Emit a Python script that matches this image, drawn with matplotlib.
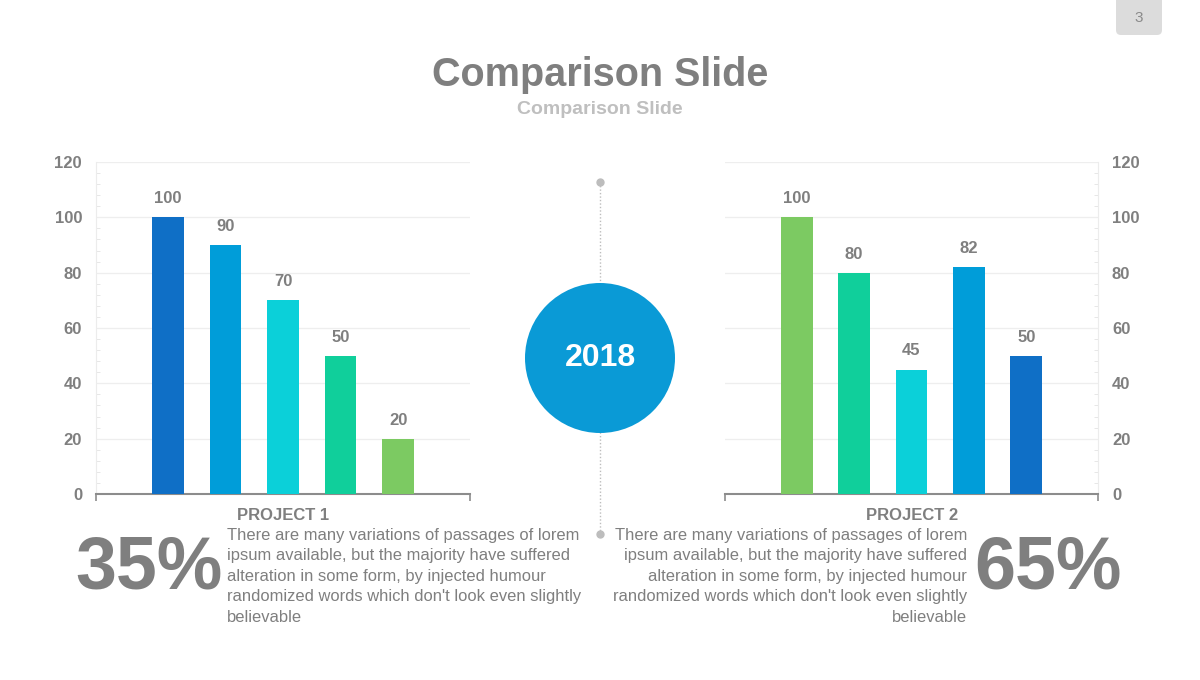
import matplotlib
matplotlib.use('Agg')
import matplotlib.pyplot as plt
from matplotlib.patches import Circle, FancyBboxPatch
from matplotlib.ticker import MultipleLocator

## Data ##
categories = ['A', 'B', 'C', 'D', 'E']
project1_values = [100, 90, 70, 50, 20]
project2_values = [100, 80, 45, 82, 50]
project1_colors = ['#0f6fc6', '#009dd9', '#0bd0d9', '#10cf9b', '#7cca62']
project2_colors = ['#7cca62', '#10cf9b', '#0bd0d9', '#009dd9', '#0f6fc6']
y_ticks = [0, 20, 40, 60, 80, 100, 120]
project_labels = ['PROJECT 1', 'PROJECT 2']
percent_labels = ['35%', '65%']
year_label = '2018'
title = 'Comparison Slide'
subtitle = 'Comparison Slide'
page_number = '3'
body = ("There are many variations of passages of lorem\n"
        "ipsum available, but the majority have suffered\n"
        "alteration in some form, by injected humour\n"
        "randomized words which don't look even slightly\n"
        "believable")

GRAY = '#7f7f7f'
LIGHT = '#bdbdbd'
CIRCLE = '#0a9ad6'

plt.rcParams['font.family'] = ['Liberation Sans', 'DejaVu Sans']

fig = plt.figure(figsize=(12, 6.8), dpi=100)
fig.patch.set_facecolor('white')

W, H = 1200.0, 680.0
def fx(px):
    return px / W
def fy(py):
    return 1 - py / H


def draw_chart(rect, values, colors, side):
    ax = fig.add_axes(rect)
    xs = list(range(len(categories)))
    ax.bar(xs, values, width=0.55, color=colors, zorder=3)
    for x, v in zip(xs, values):
        ax.text(x, v + 4, str(v), ha='center', va='bottom', fontsize=12,
                fontweight='bold', color=GRAY)
    ax.set_xlim(-1.25, 5.25)
    ax.set_ylim(0, 120)
    ax.set_yticks(y_ticks)
    ax.yaxis.set_minor_locator(MultipleLocator(4))
    ax.set_xticks([-1.25, 5.25])
    ax.set_xticklabels(['', ''])
    ax.tick_params(axis='x', length=5, width=1.2, color='#8c8c8c', direction='out')
    ax.tick_params(axis='y', which='major', length=0, pad=10, labelsize=12,
                   labelcolor=GRAY)
    ax.tick_params(axis='y', which='minor', length=3, width=0.6,
                   color='#e3e3e3', direction='in')
    ax.yaxis.grid(True, color='#eeeeee', linewidth=0.9, zorder=0)
    for s in ['top', 'left', 'right']:
        ax.spines[s].set_visible(False)
    ax.spines['bottom'].set_color('#8c8c8c')
    ax.spines['bottom'].set_linewidth(1.5)
    if side == 'right':
        ax.yaxis.tick_right()
        ax.spines['right'].set_visible(True)
        ax.spines['right'].set_color('#ececec')
    else:
        ax.spines['left'].set_visible(True)
        ax.spines['left'].set_color('#ececec')
    for t in ax.yaxis.get_major_ticks():
        t.label1.set_fontweight('bold')
        t.label2.set_fontweight('bold')
    ax.set_facecolor('none')
    return ax


draw_chart([fx(96), fy(494), fx(470 - 96), (494 - 162) / H],
           project1_values, project1_colors, 'left')
draw_chart([fx(725), fy(494), fx(1098 - 725), (494 - 162) / H],
           project2_values, project2_colors, 'right')

# overlay for decorations in pixel coords
ov = fig.add_axes([0, 0, 1, 1], zorder=5)
ov.set_xlim(0, W)
ov.set_ylim(H, 0)
ov.axis('off')

# page number tab
ov.add_patch(FancyBboxPatch((1116, -8), 46, 43, boxstyle='round,pad=0,rounding_size=5',
                            facecolor='#dcdcdc', edgecolor='none'))
ov.text(1139, 18, page_number, ha='center', va='center', fontsize=11, color='#8a8a8a')

ov.text(600, 75, title, ha='center', va='center', fontsize=28.5, fontweight='bold', color=GRAY)
ov.text(600, 110, subtitle, ha='center', va='center', fontsize=14, fontweight='bold',
        color='#bfbfbf')

# center timeline
ov.plot([600, 600], [182, 534], linestyle=(0, (1, 1.5)), color=LIGHT, linewidth=1, zorder=1)
ov.plot([600, 600], [182, 534], linestyle='none', marker='o', markersize=5,
        color=LIGHT, zorder=2)
ov.add_patch(Circle((600, 358), 75, facecolor=CIRCLE, edgecolor='none', zorder=3))
ov.text(600, 358, year_label, ha='center', va='center', fontsize=23, fontweight='bold',
        color='white', zorder=4)

# project labels
ov.text(283, 516, project_labels[0], ha='center', va='center', fontsize=12,
        fontweight='bold', color=GRAY)
ov.text(912, 516, project_labels[1], ha='center', va='center', fontsize=12,
        fontweight='bold', color=GRAY)

# body text
ov.text(227, 528, body, ha='left', va='top', fontsize=11.9, color=GRAY, linespacing=1.45)
ov.text(967, 528, body, ha='right', va='top', fontsize=11.9, color=GRAY, linespacing=1.45,
        multialignment='right')

# big percentages
ov.text(149, 569, percent_labels[0], ha='center', va='center', fontsize=53,
        fontweight='bold', color=GRAY)
ov.text(1048, 569, percent_labels[1], ha='center', va='center', fontsize=53,
        fontweight='bold', color=GRAY)

fig.savefig('out.png', dpi=100)
